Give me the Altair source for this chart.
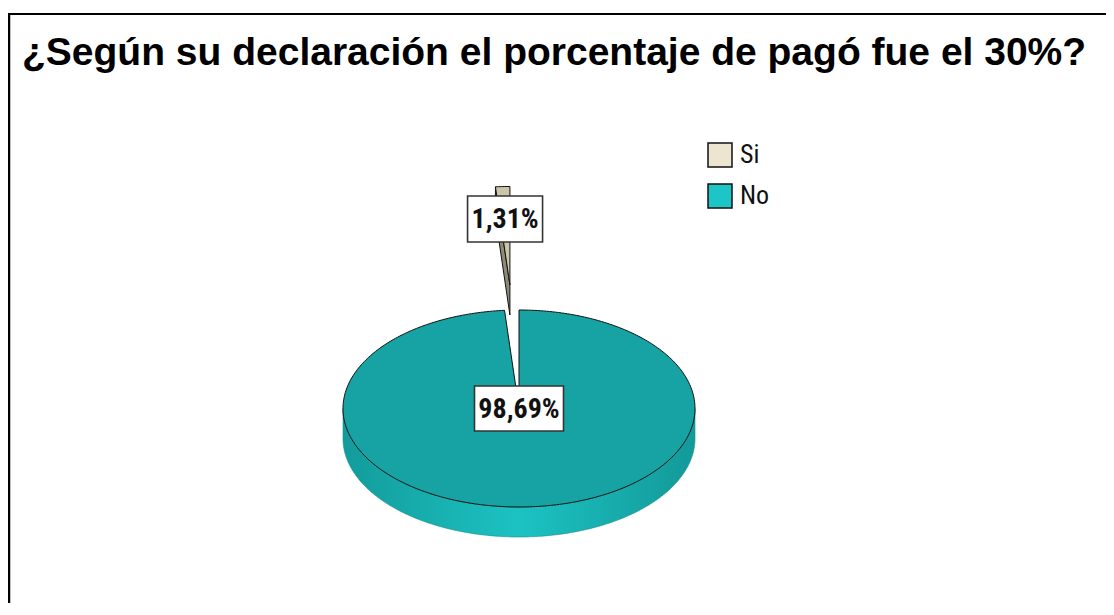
import numpy as np
import pandas as pd
import altair as alt

# ---- data ----
title_text = "¿Según su declaración el porcentaje de pagó fue el 30%?"
categories = ["Si", "No"]
percentages = [1.31, 98.69]
label_texts = ["1,31%", "98,69%"]

# ---- styles / layout ----
legend_colors = ["#ece6d1", "#1cc6c6"]
top_colors = {"Si": "#cbc5a9", "No": "#17a3a3"}
side_colors = {"Si": "#8e8a78", "No": "#1ab8b8"}
side_gradient = alt.Gradient(
    gradient="linear", x1=0, x2=1, y1=0, y2=0,
    stops=[alt.GradientStop(color="#139b9b", offset=0),
           alt.GradientStop(color="#1cc2c2", offset=0.5),
           alt.GradientStop(color="#139999", offset=1)])
explode = {"Si": 1.255, "No": 0.0}
label_radius = {"Si": 0.67, "No": 0.0}
FONT = "Liberation Sans Narrow, Arial Narrow, Roboto Condensed, DejaVu Sans Condensed, Liberation Sans, sans-serif"
TITLE_FONT = "Liberation Sans, Arial, sans-serif"

W, H = 1098, 595          # plot area (page offset 8px)
CX, CY = 511, 400.5       # pie centre in plot pixels
A, B = 176, 98.5          # ellipse radii in pixels
DEPTH = 30 / B            # thickness in vertical units

xs = alt.Scale(domain=[-CX / A, (W - CX) / A], nice=False, zero=False)
ys = alt.Scale(domain=[-(H - CY) / B, CY / B], nice=False, zero=False)

# clockwise from 12 o'clock: No first, then Si
order = ["No", "Si"]
pct = dict(zip(categories, percentages))
spans = {}
start = 0.0
for c in order:
    end = start + pct[c] / 100 * 2 * np.pi
    spans[c] = (start, end)
    start = end


def arc_pts(t0, t1, ou, ov, dv=0.0, n=None):
    if n is None:
        n = max(3, int(abs(t1 - t0) / np.radians(1)) + 2)
    t = np.linspace(t0, t1, n)
    return list(zip(ou + np.sin(t), ov + np.cos(t) - dv))


def poly_df(pts, name):
    return pd.DataFrame({"poly": name, "i": range(len(pts)),
                         "u": [p[0] for p in pts], "v": [p[1] for p in pts]})


def poly_layer(df, fill, stroke, sw):
    return alt.Chart(df).mark_line(
        interpolate="linear-closed", fill=fill, stroke=stroke, strokeWidth=sw,
        strokeJoin="round"
    ).encode(
        x=alt.X("u:Q", scale=xs, axis=None),
        y=alt.Y("v:Q", scale=ys, axis=None),
        detail="poly:N",
        order=alt.Order("i:Q"),
    )


layers = []
label_rows = []
for c in order:
    t0, t1 = spans[c]
    tm = (t0 + t1) / 2
    ou, ov = explode[c] * np.sin(tm), explode[c] * np.cos(tm)
    # front outer side
    a0, a1 = max(t0, np.pi / 2), min(t1, 3 * np.pi / 2)
    if a1 > a0:
        pts = arc_pts(a0, a1, ou, ov) + arc_pts(a1, a0, ou, ov, DEPTH)
        fill = side_gradient if c == "No" else side_colors[c]
        layers.append(poly_layer(poly_df(pts, c + "_side"), fill, "#128f8f", 0.6))
    # cut faces (only when slice is not the full pie)
    if pct[c] < 100:
        for t, vis in ((t0, np.sin(t0) < -1e-9), (t1, np.sin(t1) > 1e-9)):
            if vis:
                e = (ou + np.sin(t), ov + np.cos(t))
                pts = [(ou, ov), e, (e[0], e[1] - DEPTH), (ou, ov - DEPTH)]
                layers.append(poly_layer(poly_df(pts, c + "_cut"), side_colors[c], "#111111", 1))
    # top face
    pts = [(ou, ov)] + arc_pts(t0, t1, ou, ov)
    layers.append(poly_layer(poly_df(pts, c + "_top"), top_colors[c], "#111111", 1))
    lr = label_radius[c]
    label_rows.append({"cat": c, "u": ou + lr * np.sin(tm), "v": ov + lr * np.cos(tm),
                       "txt": label_texts[categories.index(c)]})

labels_df = pd.DataFrame(label_rows)
box_sizes = {"Si": (75, 46), "No": (89, 45)}
for c in order:
    bw, bh = box_sizes[c]
    shape = f"M-1,{-bh / bw:.4f}H1V{bh / bw:.4f}H-1Z"
    layers.append(
        alt.Chart(labels_df[labels_df.cat == c]).mark_point(
            shape=shape, size=bw * bw, filled=True, fill="white", stroke="#333333",
            strokeWidth=1.6, opacity=1
        ).encode(x=alt.X("u:Q", scale=xs, axis=None), y=alt.Y("v:Q", scale=ys, axis=None))
    )
layers.append(
    alt.Chart(labels_df).mark_text(
        font=FONT, fontSize=28, fontWeight="bold", color="#111111",
        align="center", baseline="middle", dy=1
    ).encode(x=alt.X("u:Q", scale=xs, axis=None), y=alt.Y("v:Q", scale=ys, axis=None), text="txt:N")
)

# legend carrier (invisible marks)
legend_df = pd.DataFrame({"cat": categories})
layers.append(
    alt.Chart(legend_df).mark_square(opacity=0, size=0).encode(
        x=alt.value(0), y=alt.value(0),
        fill=alt.Fill("cat:N", scale=alt.Scale(domain=categories, range=legend_colors),
                      sort=categories,
                      legend=alt.Legend(
                          orient="none", legendX=699, legendY=134, title=None,
                          symbolType="square", symbolSize=576, symbolStrokeColor="#111111",
                          symbolStrokeWidth=1.5, symbolOpacity=1, labelFont=FONT,
                          labelFontSize=26, labelColor="#111111", labelOffset=7,
                          rowPadding=11, padding=0)),
    )
)

# title
layers.append(
    alt.Chart(pd.DataFrame({"t": [title_text]})).mark_text(
        font=TITLE_FONT, fontSize=39, fontWeight="bold", color="black",
        align="left", baseline="alphabetic"
    ).encode(text="t:N", x=alt.value(14), y=alt.value(57))
)

# frame lines (top and left)
one = pd.DataFrame({"k": [0]})
layers.append(alt.Chart(one).mark_rule(color="black", strokeWidth=2).encode(
    x=alt.value(0), x2=alt.value(W), y=alt.value(6)))
layers.append(alt.Chart(one).mark_rule(color="black", strokeWidth=2.5).encode(
    x=alt.value(1), y=alt.value(6), y2=alt.value(H)))

chart = alt.layer(*layers).properties(
    width=W, height=H, autosize=alt.AutoSizeParams(type="none"), padding=0,
    background="white"
).configure_view(stroke=None)

chart.save("out.html", embed_options={"renderer": "svg", "actions": False})
